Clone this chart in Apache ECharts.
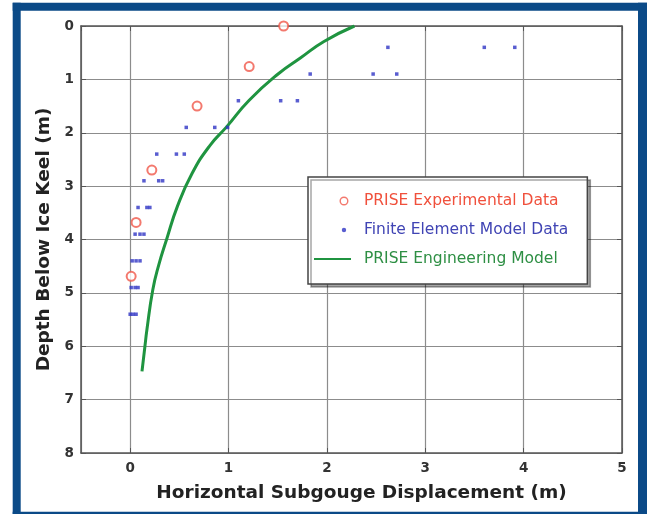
<!DOCTYPE html>
<html>
<head>
<meta charset="utf-8">
<title>Subgouge displacement</title>
<script src="https://cdn.jsdelivr.net/npm/echarts@6/dist/echarts.min.js"></script>
<style>
  html, body { margin: 0; padding: 0; background: #fff; }
  #chart { width: 647px; height: 514px; }
</style>
</head>
<body>
<div id="chart"></div>
<script>
// PRISE experimental points [displacement m, depth m]
var experimentalData = [
  [1.56, 0.0], [1.21, 0.76], [0.68, 1.50], [0.22, 2.70], [0.06, 3.68], [0.01, 4.69]
];
// finite element model points, three per depth row
var feDepths = [0.4, 0.9, 1.4, 1.9, 2.4, 2.9, 3.4, 3.9, 4.4, 4.9, 5.4];
var feDisplacements = [
  [2.62, 3.60, 3.91],
  [1.83, 2.47, 2.71],
  [1.10, 1.53, 1.70],
  [0.57, 0.86, 0.99],
  [0.27, 0.47, 0.55],
  [0.14, 0.29, 0.33],
  [0.08, 0.17, 0.20],
  [0.05, 0.10, 0.14],
  [0.02, 0.06, 0.10],
  [0.01, 0.05, 0.08],
  [0.00, 0.03, 0.06]
];
// engineering model curve
var modelCurve = [
  [2.28, 0.0], [1.97, 0.29], [1.73, 0.60], [1.51, 0.89], [1.21, 1.39], [0.98, 1.89],
  [0.81, 2.24], [0.63, 2.76], [0.48, 3.38], [0.37, 4.00], [0.29, 4.48], [0.23, 4.94],
  [0.17, 5.69], [0.15, 6.00], [0.12, 6.47]
];
var seriesNames = ["PRISE Experimental Data", "Finite Element Model Data", "PRISE Engineering Model"];
var seriesColors = ["#f0584a", "#3034c4", "#1f9440"];
var legendColors = ["#f0503c", "#4044b4", "#2e8f44"];

// legend markers sit at the right end of a 37x9 slot, like the original
var legendIcons = [
  "path://M0,0L0.01,0.01M37,9L37.01,9.01M25.5,4.5a4.5,4.5 0 1,0 9,0a4.5,4.5 0 1,0 -9,0zM26.9,4.5a3.1,3.1 0 1,1 6.2,0a3.1,3.1 0 1,1 -6.2,0z",
  "path://M0,0L0.01,0.01M37,9L37.01,9.01M27.8,4.5a2.2,2.2 0 1,0 4.4,0a2.2,2.2 0 1,0 -4.4,0z",
  null
];

var feData = [];
feDepths.forEach(function (d, i) {
  feDisplacements[i].forEach(function (x) { feData.push([x, d]); });
});

var myChart = echarts.init(document.getElementById("chart"), null, { renderer: "canvas" });

var tickFont = { color: "#333", fontFamily: "DejaVu Sans", fontWeight: "bold", fontSize: 13.5 };
var gridLine = { show: true, lineStyle: { color: "#8c8c8c", width: 1.2 } };
var boxLine = { show: true, onZero: false, lineStyle: { color: "#555", width: 1.5 } };
var inTick = { show: true, inside: true, length: 5, lineStyle: { color: "#555" } };

var option = {
  backgroundColor: "#fff",
  animation: false,
  grid: { left: 81, top: 26, right: 25, bottom: 61, containLabel: false, outerBoundsMode: "none" },
  graphic: [
    // dark blue frame
    { type: "rect", shape: { x: 12.7, y: 2.7, width: 8, height: 512 }, style: { fill: "#0b4a87" }, silent: true },
    { type: "rect", shape: { x: 12.7, y: 2.7, width: 635, height: 8 }, style: { fill: "#0b4a87" }, silent: true },
    { type: "rect", shape: { x: 638, y: 2.7, width: 9, height: 512 }, style: { fill: "#0b4a87" }, silent: true },
    { type: "rect", shape: { x: 12.7, y: 511.7, width: 635, height: 3 }, style: { fill: "#0b4a87" }, silent: true }
  ],
  legend: {
    orient: "vertical",
    left: 308,
    top: 177,
    padding: [16, 19, 17, 5],
    itemGap: 13,
    itemWidth: 37,
    itemHeight: 9,
    backgroundColor: "#fff",
    borderColor: "#444",
    borderWidth: 1.5,
    borderRadius: 0,
    shadowColor: "rgba(0,0,0,0.35)",
    shadowOffsetX: 3,
    shadowOffsetY: 3,
    shadowBlur: 0,
    textStyle: { fontFamily: "DejaVu Sans", fontSize: 15.5, padding: [0, 0, 0, 8] },
    data: seriesNames.map(function (n, i) {
      var item = { name: n, textStyle: { color: legendColors[i] } };
      if (legendIcons[i]) {
        item.icon = legendIcons[i];
        item.itemStyle = { color: seriesColors[i], borderWidth: 0 };
      } else {
        item.itemStyle = { opacity: 0 };
      }
      return item;
    })
  },
  xAxis: [
    {
      type: "value",
      min: -0.5,
      max: 5,
      splitNumber: 5,
      name: "Horizontal Subgouge Displacement (m)",
      nameLocation: "middle",
      nameGap: 31,
      nameTextStyle: { color: "#222", fontFamily: "DejaVu Sans", fontWeight: "bold", fontSize: 18.5, padding: [0, 0, 0, 20] },
      axisLine: boxLine,
      axisTick: inTick,
      axisLabel: Object.assign({ margin: 8, showMinLabel: false }, tickFont),
      splitLine: gridLine
    },
    {
      type: "value",
      position: "top",
      min: -0.5,
      max: 5,
      splitNumber: 5,
      axisLine: boxLine,
      axisTick: inTick,
      axisLabel: { show: false },
      splitLine: { show: false }
    }
  ],
  yAxis: [
    {
      type: "value",
      inverse: true,
      min: 0,
      max: 8,
      interval: 1,
      name: "Depth Below Ice Keel (m)",
      nameLocation: "middle",
      nameGap: 27,
      nameTextStyle: { color: "#222", fontFamily: "DejaVu Sans", fontWeight: "bold", fontSize: 18.5 },
      axisLine: boxLine,
      axisTick: inTick,
      axisLabel: Object.assign({ margin: 7 }, tickFont),
      splitLine: gridLine
    },
    {
      type: "value",
      position: "right",
      inverse: true,
      min: 0,
      max: 8,
      interval: 1,
      axisLine: boxLine,
      axisTick: inTick,
      axisLabel: { show: false },
      splitLine: { show: false }
    }
  ],
  series: [
    {
      name: seriesNames[2],
      type: "line",
      data: modelCurve,
      smooth: true,
      symbol: "none",
      z: 3,
      itemStyle: { color: seriesColors[2] },
      lineStyle: { color: seriesColors[2], width: 3 }
    },
    {
      name: seriesNames[1],
      type: "scatter",
      data: feData,
      symbol: "rect",
      symbolSize: 3.5,
      z: 4,
      itemStyle: { color: seriesColors[1] }
    },
    {
      name: seriesNames[0],
      type: "scatter",
      data: experimentalData,
      symbol: "emptyCircle",
      symbolSize: 9,
      z: 5,
      itemStyle: { color: seriesColors[0], borderWidth: 1.5 }
    }
  ]
};
myChart.setOption(option);
</script>
</body>
</html>
